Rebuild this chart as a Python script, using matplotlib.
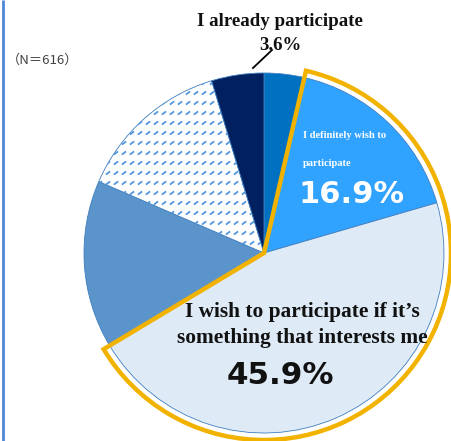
import matplotlib
matplotlib.use("Agg")
import matplotlib.pyplot as plt
from matplotlib.patches import Wedge
from matplotlib.path import Path
import numpy as np

# share of respondents, clockwise from the top
labels = ["I already participate", "I definitely wish to participate",
          "I wish to participate if it's something that interests me",
          "Other 1", "Other 2", "Other 3"]
shares = [3.6, 16.9, 45.9, 15.1, 13.8, 4.7]
colors = ["#0070C0", "#30A2FF", "#DEEAF6", "#5B93CB", "#FFFFFF", "#002060"]
dashed = [False, False, False, False, True, False]
n_resp = "（N＝616）"

W, H = 452, 441
fig = plt.figure(figsize=(W / 100, H / 100), dpi=100)
ax = fig.add_axes([0, 0, 1, 1])

cx, cy, r = 264, H - 253, 180
wedges, _ = ax.pie(shares, colors=colors, startangle=90, counterclock=False,
                   center=(cx, cy), radius=r, frame=True,
                   wedgeprops=dict(edgecolor="#3F7FC0", linewidth=0.6))
ax.set_xlim(0, W)
ax.set_ylim(0, H)
ax.set_aspect("equal")
ax.axis("off")

# dashed diagonal texture, like the office pattern fill
dash = Path([(-1.3, -1), (1.3, 1)], [Path.MOVETO, Path.LINETO])
gx, gy = np.meshgrid(np.arange(cx - r, cx + r, 8.0), np.arange(cy - r, cy + r, 10.0))
for w, d in zip(wedges, dashed):
    if d:
        sc = ax.scatter(gx.ravel(), gy.ravel(), marker=dash, s=9,
                        facecolors="none", edgecolors="#5096DC", linewidths=1.3, zorder=3)
        sc.set_clip_path(w)

# yellow outline around the two "wish" slices
cum = np.cumsum([0] + shares)
t_start = 90 - cum[3] / 100 * 360
t_end = 90 - cum[1] / 100 * 360
ax.add_patch(Wedge((cx, cy), 187, t_start, t_end, fill=False,
                   edgecolor="#F2B200", linewidth=3.2, joinstyle="miter", zorder=5))

# left border line
ax.plot([3.5, 3.5], [0, H], color="#4F86D6", linewidth=2, solid_capstyle="butt")

serif = "Liberation Serif"
ax.text(280, H - 21, labels[0], ha="center", va="center", fontsize=13.6,
        fontweight="bold", family=serif, color="#111111")
ax.text(280, H - 45, f"{shares[0]}%", ha="center", va="center",
        fontsize=13.6, fontweight="bold", family=serif, color="#111111")
ax.plot([253, 272], [H - 68, H - 50], color="black", linewidth=1.3, zorder=6)

ax.text(7, H - 60, n_resp, ha="left", va="center", fontsize=9.5,
        family=["Noto Sans CJK JP", "DejaVu Sans"], color="#404040")

ax.text(303, H - 135, "I definitely wish to", ha="left", va="center", fontsize=7.6,
        fontweight="bold", family=serif, color="white", zorder=6)
ax.text(303, H - 163, "participate", ha="left", va="center", fontsize=7.6,
        fontweight="bold", family=serif, color="white", zorder=6)
ax.text(352, H - 195, f"{shares[1]}%", ha="center", va="center", fontsize=22,
        fontweight="bold", color="white", zorder=6)

ax.text(302, H - 312, "I wish to participate if it\u2019s", ha="center", va="center",
        fontsize=15.4, fontweight="bold", family=serif, color="#111111", zorder=6)
ax.text(302, H - 338, "something that interests me", ha="center", va="center",
        fontsize=15.4, fontweight="bold", family=serif, color="#111111", zorder=6)
ax.text(280, H - 375, f"{shares[2]}%", ha="center", va="center", fontsize=22.3,
        fontweight="bold", color="#111111", zorder=6)

fig.savefig("out.png", dpi=100)
